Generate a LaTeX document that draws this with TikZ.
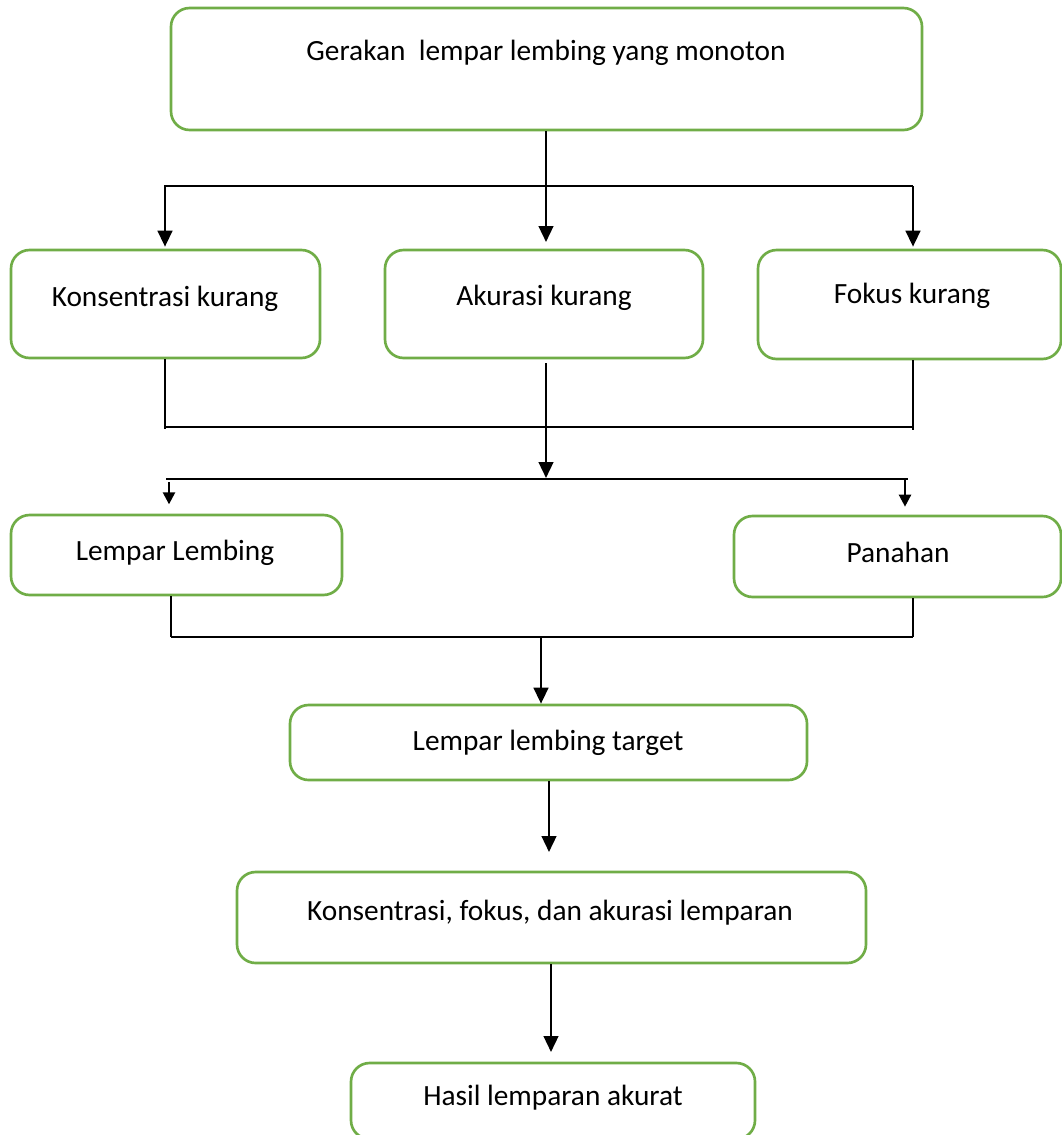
\documentclass[tikz,border=0pt]{standalone}
\usepackage{fontspec}
\setmainfont{Carlito}
\usetikzlibrary{arrows.meta}
\definecolor{boxgreen}{HTML}{70AD47}
\tikzset{
  box/.style={draw=boxgreen, line width=2pt, rounded corners=14pt, inner sep=0pt},
  txt/.style={font=\fontsize{22}{26}\selectfont, inner sep=0pt, anchor=center},
  conn/.style={draw=black, line width=1pt},
  bigarr/.style={draw=black, line width=1.8pt, -{Triangle[width=11pt,length=12pt]}},
  smallarr/.style={draw=black, line width=1.8pt, -{Triangle[width=9pt,length=9pt]}},
}
\begin{document}
\begin{tikzpicture}[x=0.75pt,y=-0.75pt]
\useasboundingbox (0,0) rectangle (1062,1135);
% boxes
\node[box, minimum width=751*0.75pt, minimum height=122*0.75pt] (b1) at (546.5,69) {};
\node[box, minimum width=309*0.75pt, minimum height=108*0.75pt] (k) at (165.5,304) {};
\node[box, minimum width=318*0.75pt, minimum height=108*0.75pt] (a) at (544,304) {};
\node[box, minimum width=303*0.75pt, minimum height=109*0.75pt] (f) at (909.5,304.5) {};
\node[box, minimum width=331*0.75pt, minimum height=80*0.75pt] (l) at (176.5,555) {};
\node[box, minimum width=327*0.75pt, minimum height=81*0.75pt] (p) at (897.5,556.5) {};
\node[box, minimum width=517*0.75pt, minimum height=75*0.75pt] (t) at (548.5,742.5) {};
\node[box, minimum width=629*0.75pt, minimum height=91*0.75pt] (c) at (551.5,917.5) {};
\node[box, minimum width=404*0.75pt, minimum height=76*0.75pt] (h) at (553,1101) {};
% texts
\node[txt] (tb1) at (546,53) {Gerakan\ \ lempar lembing yang monoton};
\node[txt] (tk) at (165,299) {Konsentrasi kurang};
\node[txt] (ta) at (544,298) {Akurasi kurang};
\node[txt] (tf) at (912,296) {Fokus kurang};
\node[txt] (tl) at (175,553) {Lempar Lembing};
\node[txt] (tp) at (898,552) {Panahan};
\node[txt] (tt) at (548,743) {Lempar lembing target};
\node[txt] (tc) at (550,913) {Konsentrasi, fokus, dan akurasi lemparan};
\node[txt] (th) at (553,1098) {Hasil lemparan akurat};
% junction coordinates
\coordinate (j1l) at (164,186);
\coordinate (j1r) at (913,186);
\coordinate (j2l) at (165,427);
\coordinate (j2r) at (913,427);
\coordinate (j3l) at (166,479);
\coordinate (j3r) at (908,479);
\coordinate (j4l) at (171,637);
\coordinate (j4r) at (913,637);
\coordinate (j4m) at (541,637);
% level 1
\draw[conn] (j1l) -- (j1r);
\draw[bigarr, shorten >=5pt] (b1.south -| 546,0) -- (a.north -| 546,0);
\draw[bigarr, shorten >=1.5pt] (165,186) -- (k.north -| 165,0);
\draw[bigarr, shorten >=1.5pt] (913,186) -- (f.north -| 913,0);
% level 2
\draw[conn] (k.south -| 165,0) -- (165,429);
\draw[conn] (f.south -| 913,0) -- (913,430);
\draw[conn] (j2l) -- (j2r);
\draw[conn] (j3l) -- (j3r);
\draw[bigarr] (546,363) -- (546,478);
\draw[smallarr, shorten >=7pt] (169,482) -- (l.north -| 169,0);
\draw[smallarr, shorten >=6pt] (905,480) -- (p.north -| 905,0);
% level 3
\draw[conn] (l.south -| 171,0) -- (j4l);
\draw[conn] (p.south -| 913,0) -- (j4r);
\draw[conn] (j4l) -- (j4r);
\draw[bigarr] (j4m) -- (t.north -| 541,0);
% lower chain
\draw[bigarr] (t.south -| 549,0) -- (549,852);
\draw[bigarr] (c.south -| 551,0) -- (551,1052);
\end{tikzpicture}
\end{document}
